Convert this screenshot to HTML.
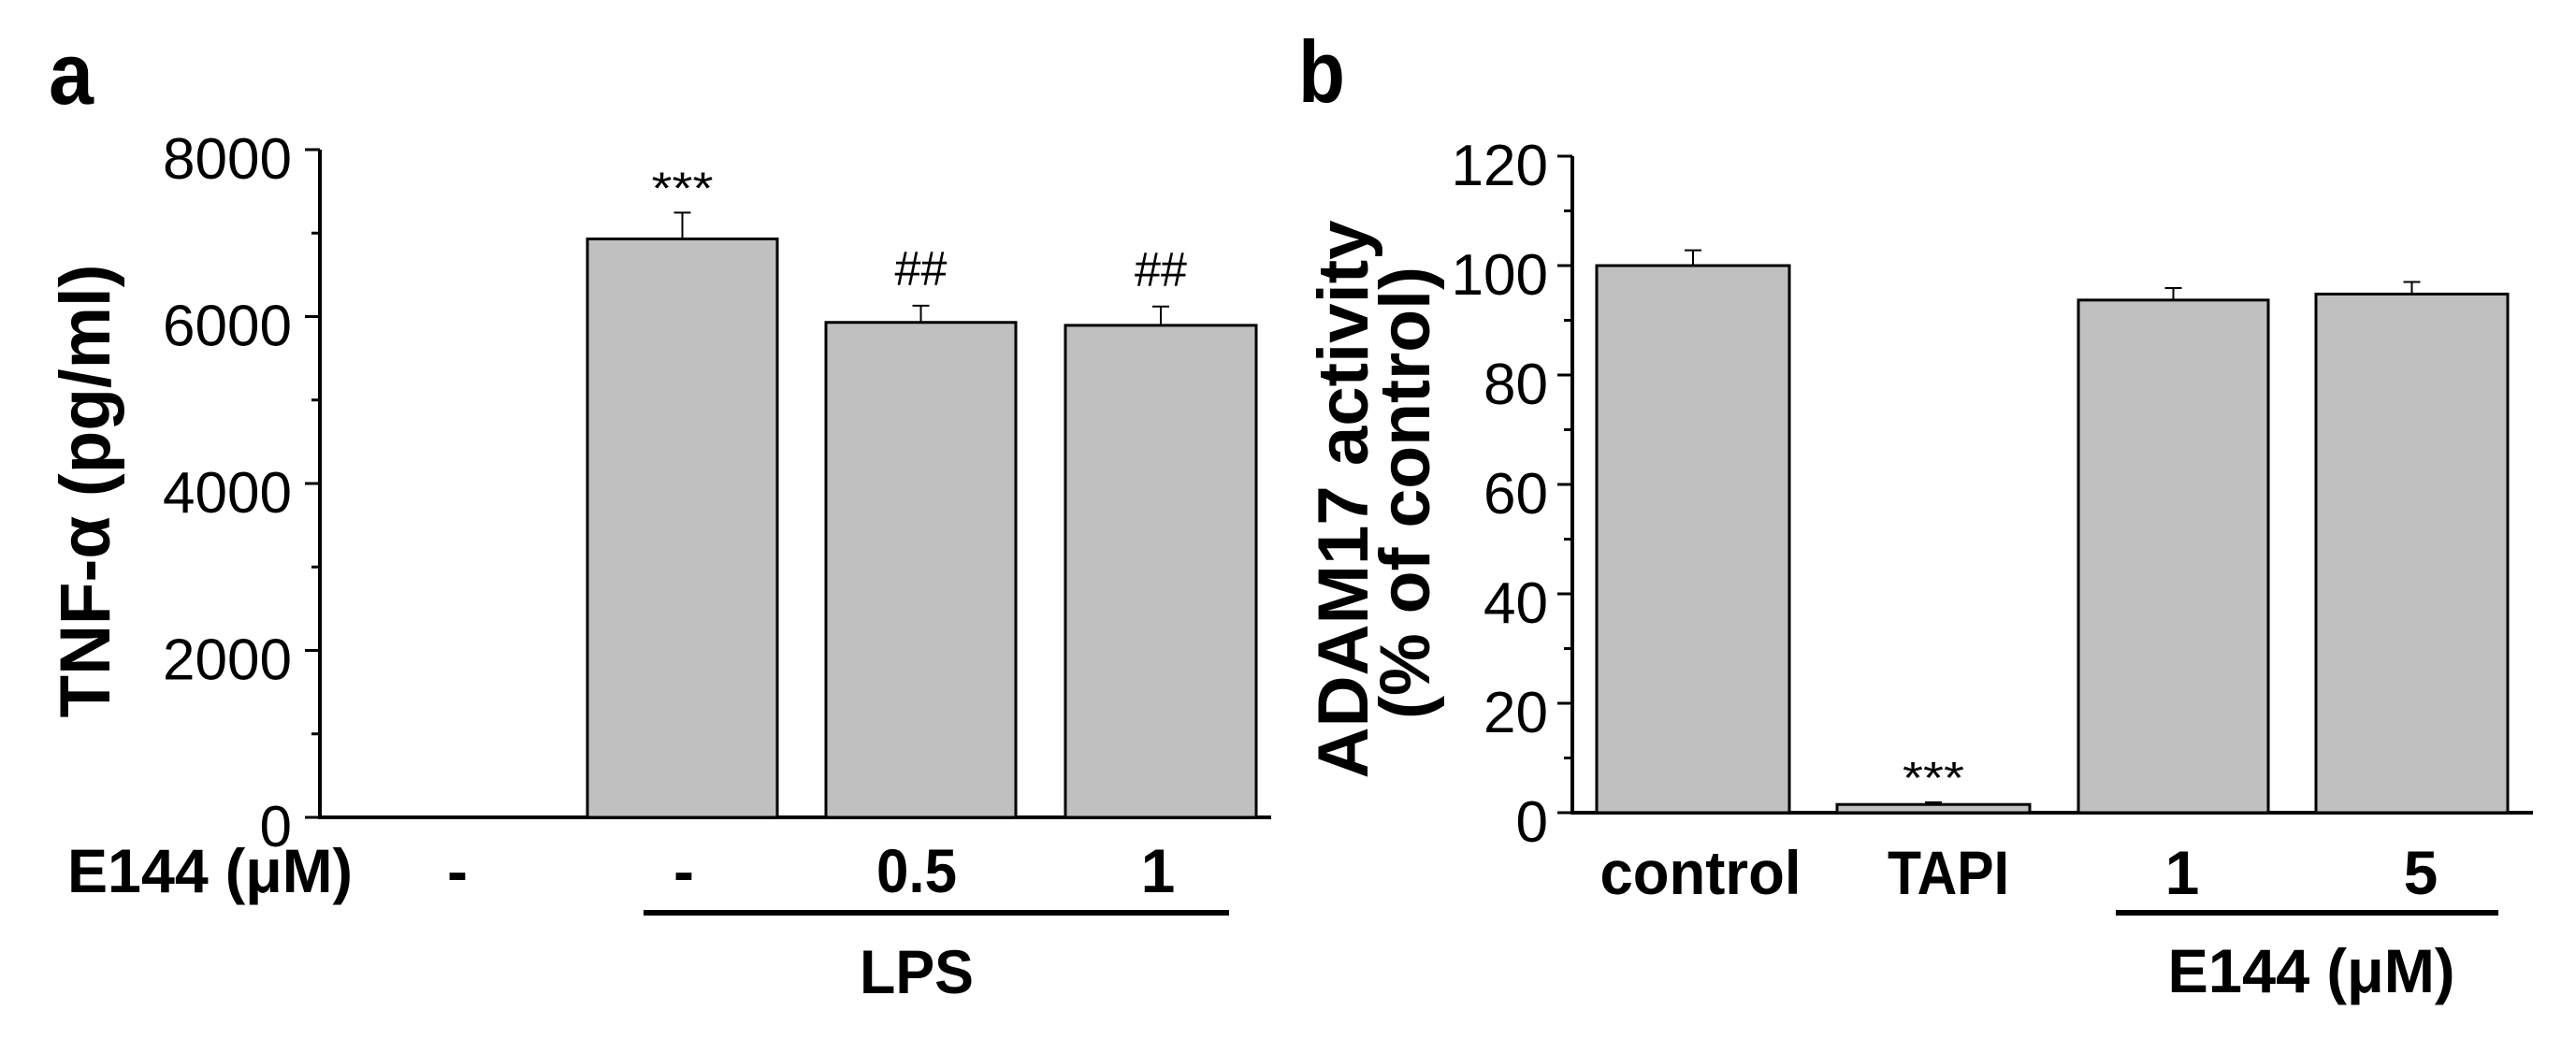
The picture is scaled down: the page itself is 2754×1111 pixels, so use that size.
<!DOCTYPE html>
<html><head><meta charset="utf-8"><style>
html,body{margin:0;padding:0;background:#fff;overflow:hidden;}
svg{display:block;}
text{font-family:"Liberation Sans",Arial,sans-serif;fill:#000;}
</style></head><body>
<svg id="fig" width="2754" height="1111" viewBox="0 0 2754 1111" xmlns="http://www.w3.org/2000/svg"></svg>
<script>
// Panel a data
const aCats = ["-", "-", "0.5", "1"];
const aVals = [0, 6930, 5930, 5895];
const aErrs = [0, 315, 200, 225];
const aSig = ["", "***", "##", "##"];
const aTicks = [0, 2000, 4000, 6000, 8000];
// Panel b data
const bCats = ["control", "TAPI", "1", "5"];
const bVals = [100, 1.5, 93.7, 94.8];
const bErrs = [2.8, 0.4, 2.2, 2.2];
const bSig = ["", "***", "", ""];
const bTicks = [0, 20, 40, 60, 80, 100, 120];

const NS = "http://www.w3.org/2000/svg";
const svg = document.getElementById("fig");
function el(tag, attrs, parent) {
  const e = document.createElementNS(NS, tag);
  for (const k in attrs) e.setAttribute(k, attrs[k]);
  (parent || svg).appendChild(e);
  return e;
}
function txt(s, x, y, size, weight, anchor, len, rot) {
  const t = el("text", {x: 0, y: 0, "font-size": size, "font-weight": weight, "text-anchor": anchor,
    transform: "translate(" + x + "," + y + ")" + (rot ? " rotate(-90)" : "")});
  if (len) { t.setAttribute("textLength", len); t.setAttribute("lengthAdjust", "spacingAndGlyphs"); }
  t.textContent = s;
  return t;
}

function panel(cfg) {
  const g = el("g", {});
  
  
  const y = v => cfg.y0 - (v / cfg.max) * (cfg.y0 - cfg.yTop);
  const ax = el("line", {x1: cfg.ax, y1: cfg.yTop, x2: cfg.ax, y2: cfg.y0 + 2, stroke: "#000", "stroke-width": 4}, g);
  
  
  const xa = el("line", {x1: cfg.ax - 2, y1: cfg.y0, x2: cfg.axEnd, y2: cfg.y0, stroke: "#000", "stroke-width": 4}, g);
  
  
  for (let v = 0; v <= cfg.max; v += cfg.minor) {
    const m = el("line", {x1: cfg.ax - 9, y1: y(v), x2: cfg.ax, y2: y(v), stroke: "#000", "stroke-width": 3}, g);
    
    
  }
  cfg.ticks.forEach(v => {
    const t = el("line", {x1: cfg.ax - 16, y1: y(v), x2: cfg.ax, y2: y(v), stroke: "#000", "stroke-width": 3}, g);
    
    
    const s = String(v);
    const l = txt(s, cfg.labR, y(v) + 31, 62, "normal", "end", s.length * 34.5);
    
    
  });
  cfg.vals.forEach((v, i) => {
    const [x0, x1] = cfg.bars[i];
    const cx = (x0 + x1) / 2;
    if (v > 0) {
      const e = cfg.errs[i];
      const er = el("line", {x1: cx, y1: y(v + e), x2: cx, y2: y(v), stroke: "#000", "stroke-width": 2}, g);
      
      
      const cap = el("line", {x1: cx - 9, y1: y(v + e), x2: cx + 9, y2: y(v + e), stroke: "#000", "stroke-width": 2}, g);
      
      
      const r = el("rect", {x: x0, y: y(v), width: x1 - x0, height: cfg.y0 - y(v), fill: "#c0c0c0", stroke: "#000", "stroke-width": 3}, g);
      
      
    }
    if (cfg.sig[i]) {
      const isHash = cfg.sig[i][0] === "#";
      const s = txt(cfg.sig[i], cx, y(v + cfg.errs[i]) - (isHash ? 22 : 10), isHash ? 52 : 48, "normal", "middle", cfg.sig[i].length * (isHash ? 28 : 22));
      
      
    }
  });
  return y;
}

// Panel a
panel({name: "panel-a", ax: 342, axEnd: 1359, yTop: 160, y0: 874, max: 8000, minor: 1000,
  ticks: aTicks, labR: 312, vals: aVals, errs: aErrs, sig: aSig,
  bars: [[370, 574], [628, 831], [883, 1086], [1139, 1343]]});
let t;
t = txt("a", 52, 111, 94, "bold", "start", 48);  
t = txt("TNF-α (pg/ml)", 117, 525, 76, "bold", "middle", 485, true);  
t = txt("E144 (μM)", 72, 954, 66, "bold", "start", 305);  
const aX = [489, 731, 980, 1238];
const aL = [0, 0, 86, 0];
aCats.forEach((c, i) => {
  const l = txt(c, aX[i], 954, 66, "bold", "middle", aL[i] || null);
  
  
});
t = el("line", {x1: 688, y1: 976, x2: 1314, y2: 976, stroke: "#000", "stroke-width": 6});  
t = txt("LPS", 980, 1062, 66, "bold", "middle", 122);  

// Panel b
panel({name: "panel-b", ax: 1681, axEnd: 2708, yTop: 167, y0: 869, max: 120, minor: 10,
  ticks: bTicks, labR: 1655, vals: bVals, errs: bErrs, sig: bSig,
  bars: [[1707, 1913], [1964, 2170], [2222, 2425], [2476, 2681]]});
t = txt("b", 1388, 109, 94, "bold", "start", 50);  
t = txt("ADAM17 activity", 1462, 534, 76, "bold", "middle", 597, true);  
t = txt("(% of control)", 1528, 527, 76, "bold", "middle", 484, true);  
const bX = [1818, 2083, 2333, 2588];
const bL = [215, 130, 0, 0];
bCats.forEach((c, i) => {
  const l = txt(c, bX[i], 956, 66, "bold", "middle", bL[i] || null);
  
  
});
t = el("line", {x1: 2262, y1: 976, x2: 2671, y2: 976, stroke: "#000", "stroke-width": 6});  
t = txt("E144 (μM)", 2471, 1061, 66, "bold", "middle", 307);  
</script>
</body></html>
